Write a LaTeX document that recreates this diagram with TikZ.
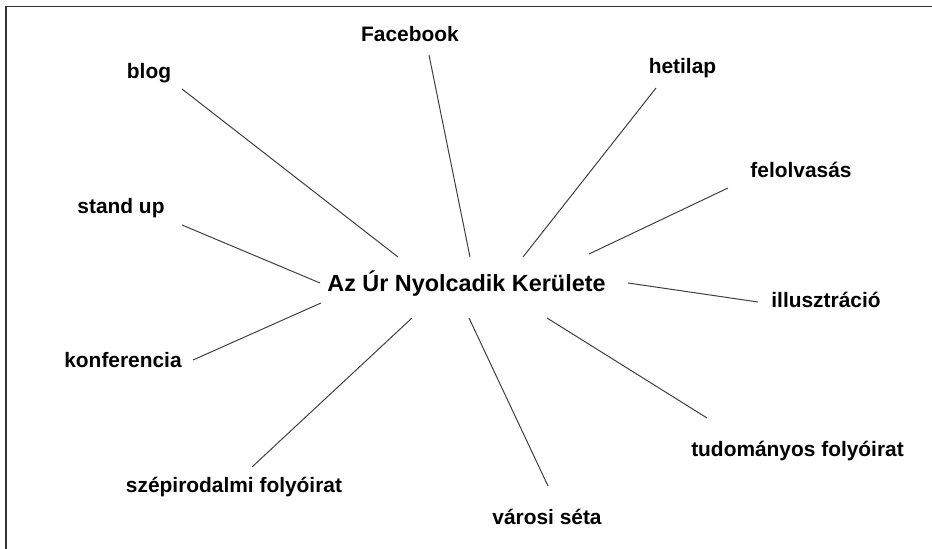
\documentclass[tikz,border=0pt]{standalone}
\usepackage{fontspec}
\setmainfont{Liberation Sans}
\begin{document}
\begin{tikzpicture}[x=0.5pt, y=-0.5pt,
	label/.style={anchor=base, inner sep=0pt, font=\fontsize{10.45}{12}\selectfont\bfseries},
	hubtext/.style={anchor=base, inner sep=0pt, font=\fontsize{11.7}{14}\selectfont\bfseries},
	spoke/.style={draw=black!75, line width=0.5pt}]
	\useasboundingbox (0, 0) rectangle (932, 549);
	% Rahmen (nur oben und links)
	\draw[black!80, line width=0.8pt] (6, 549) -- (6, 6.5) -- (932, 6.5);
	% Mitte
	\node[hubtext] (hub) at (466.5, 292) {Az Úr Nyolcadik Kerülete};
	% Begriffe
	\node[label] (facebook) at (410, 42) {Facebook};
	\node[label] (blog) at (149, 79) {blog};
	\node[label] (hetilap) at (682.5, 74) {hetilap};
	\node[label] (felolvasas) at (801, 178) {felolvasás};
	\node[label] (standup) at (121, 214) {stand up};
	\node[label] (illusztracio) at (826, 308) {illusztráció};
	\node[label] (konferencia) at (123, 368) {konferencia};
	\node[label] (tudomanyos) at (797.5, 457) {tudományos folyóirat};
	\node[label] (szepirodalmi) at (234, 493) {szépirodalmi folyóirat};
	\node[label] (varosi) at (547, 525) {városi séta};
	% Endpunkte der Linien
	\coordinate (facebook-a) at (429, 55);
	\coordinate (facebook-b) at (470, 257);
	\coordinate (blog-a) at (182, 89);
	\coordinate (blog-b) at (398, 257);
	\coordinate (hetilap-a) at (656, 88);
	\coordinate (hetilap-b) at (523, 257);
	\coordinate (felolvasas-a) at (728, 188);
	\coordinate (felolvasas-b) at (589, 254);
	\coordinate (standup-a) at (182, 225);
	\coordinate (standup-b) at (320, 283);
	\coordinate (illusztracio-a) at (758, 302);
	\coordinate (illusztracio-b) at (628, 283);
	\coordinate (konferencia-a) at (193, 360);
	\coordinate (konferencia-b) at (321, 303);
	\coordinate (tudomanyos-a) at (707, 418);
	\coordinate (tudomanyos-b) at (547, 318);
	\coordinate (szepirodalmi-a) at (252, 467);
	\coordinate (szepirodalmi-b) at (412, 318);
	\coordinate (varosi-a) at (548, 486);
	\coordinate (varosi-b) at (469, 318);
	% Linien
	\foreach \n in {facebook, blog, hetilap, felolvasas, standup, illusztracio,
		konferencia, tudomanyos, szepirodalmi, varosi}
		\draw[spoke] (\n-a) -- (\n-b);
\end{tikzpicture}
\end{document}
